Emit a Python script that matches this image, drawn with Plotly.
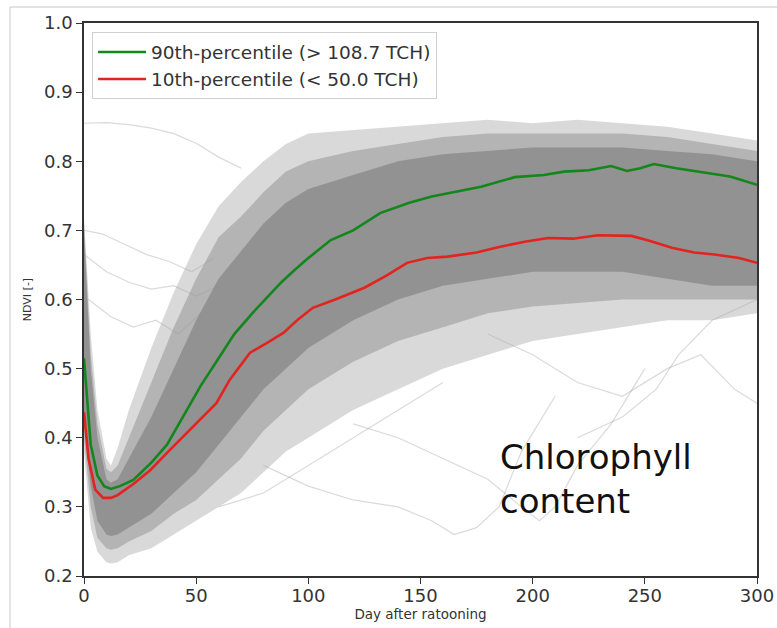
import plotly.graph_objects as go

# ---- data ----
band_x = [0, 3, 6, 10, 12, 15, 20, 30, 40, 50, 60, 70, 80, 90, 100, 120, 140, 160, 180, 200, 220, 240, 260, 280, 300]
outer_upper = [0.72, 0.55, 0.44, 0.37, 0.36, 0.385, 0.44, 0.53, 0.61, 0.68, 0.735, 0.77, 0.80, 0.825, 0.84, 0.845, 0.85, 0.855, 0.86, 0.855, 0.86, 0.855, 0.85, 0.84, 0.83]
outer_lower = [0.38, 0.27, 0.235, 0.22, 0.218, 0.22, 0.23, 0.24, 0.26, 0.28, 0.30, 0.32, 0.35, 0.38, 0.40, 0.44, 0.47, 0.50, 0.52, 0.54, 0.55, 0.56, 0.57, 0.57, 0.58]
mid_upper = [0.71, 0.52, 0.42, 0.355, 0.35, 0.36, 0.40, 0.48, 0.56, 0.63, 0.69, 0.72, 0.755, 0.785, 0.80, 0.815, 0.825, 0.835, 0.84, 0.84, 0.84, 0.84, 0.835, 0.825, 0.815]
mid_lower = [0.40, 0.30, 0.255, 0.24, 0.238, 0.24, 0.25, 0.265, 0.29, 0.31, 0.34, 0.37, 0.41, 0.44, 0.47, 0.51, 0.54, 0.56, 0.58, 0.59, 0.595, 0.60, 0.60, 0.60, 0.60]
core_upper = [0.70, 0.50, 0.40, 0.34, 0.335, 0.34, 0.37, 0.43, 0.50, 0.57, 0.63, 0.67, 0.71, 0.74, 0.76, 0.78, 0.80, 0.81, 0.815, 0.82, 0.82, 0.82, 0.815, 0.81, 0.80]
core_lower = [0.42, 0.33, 0.28, 0.26, 0.258, 0.26, 0.27, 0.29, 0.32, 0.35, 0.39, 0.43, 0.47, 0.50, 0.53, 0.57, 0.60, 0.62, 0.63, 0.64, 0.64, 0.64, 0.63, 0.62, 0.62]

green_x = [0, 3, 6, 9, 12, 16, 22, 30, 37, 46, 52, 60, 67, 75, 82, 88, 94, 100, 110, 120, 132, 145, 155, 165, 177, 192, 205, 214, 225, 235, 242, 248, 254, 264, 274, 288, 300]
green_y = [0.515, 0.39, 0.345, 0.33, 0.326, 0.33, 0.339, 0.364, 0.39, 0.44, 0.475, 0.515, 0.55, 0.58, 0.604, 0.625, 0.643, 0.66, 0.686, 0.70, 0.725, 0.74, 0.749, 0.755, 0.763, 0.777, 0.78, 0.785, 0.787, 0.793, 0.786, 0.79, 0.796, 0.79, 0.785, 0.778, 0.766]

red_x = [0, 2, 5, 8.5, 12, 15, 22, 29.5, 37, 44, 52, 59, 65, 74, 82, 89, 95, 102, 112, 125, 135, 144, 153, 162, 175, 185, 197, 207, 218, 229, 244, 252, 262, 272, 281, 292, 300]
red_y = [0.437, 0.37, 0.325, 0.313, 0.313, 0.317, 0.333, 0.353, 0.378, 0.401, 0.426, 0.450, 0.484, 0.523, 0.538, 0.552, 0.57, 0.588, 0.60, 0.617, 0.635, 0.653, 0.66, 0.662, 0.668, 0.676, 0.684, 0.689, 0.688, 0.693, 0.692, 0.685, 0.675, 0.668, 0.665, 0.66, 0.653]

outliers = [
    ([0, 10, 20, 30, 40, 50, 60, 70], [0.855, 0.856, 0.853, 0.848, 0.84, 0.826, 0.806, 0.79]),
    ([0, 8, 18, 28, 38, 48, 58], [0.70, 0.695, 0.68, 0.665, 0.655, 0.64, 0.66]),
    ([0, 10, 20, 30, 40, 50, 60], [0.665, 0.64, 0.625, 0.615, 0.62, 0.605, 0.62]),
    ([2, 12, 22, 32, 42, 52], [0.60, 0.575, 0.56, 0.57, 0.55, 0.58]),
    ([80, 100, 120, 140, 155, 165, 175, 185, 195, 210], [0.36, 0.33, 0.31, 0.30, 0.28, 0.26, 0.27, 0.30, 0.38, 0.46]),
    ([120, 140, 160, 180, 195, 203, 210, 220, 235, 250], [0.42, 0.40, 0.37, 0.34, 0.30, 0.28, 0.30, 0.36, 0.42, 0.50]),
    ([180, 200, 220, 240, 260, 275, 290, 300], [0.55, 0.52, 0.48, 0.46, 0.50, 0.52, 0.47, 0.45]),
    ([60, 80, 100, 120, 140, 160], [0.30, 0.32, 0.36, 0.40, 0.44, 0.48]),
    ([220, 240, 255, 265, 280, 300], [0.40, 0.43, 0.47, 0.52, 0.57, 0.60]),
]

x_ticks = [0, 50, 100, 150, 200, 250, 300]
y_ticks = [0.2, 0.3, 0.4, 0.5, 0.6, 0.7, 0.8, 0.9, 1.0]
note_text = "Chlorophyll<br>content"

fig = go.Figure()

for ox, oy in outliers:
    fig.add_trace(go.Scatter(x=ox, y=oy, mode="lines", line=dict(color="rgba(150,150,150,0.35)", width=1.2),
                             showlegend=False, hoverinfo="skip"))

for lo, hi, col in [(outer_lower, outer_upper, "rgba(170,170,170,0.45)"),
                    (mid_lower, mid_upper, "rgba(150,150,150,0.55)"),
                    (core_lower, core_upper, "rgba(135,135,135,0.75)")]:
    fig.add_trace(go.Scatter(x=band_x, y=lo, mode="lines", line=dict(width=0, color=col),
                             showlegend=False, hoverinfo="skip"))
    fig.add_trace(go.Scatter(x=band_x, y=hi, mode="lines", line=dict(width=0, color=col),
                             fill="tonexty", fillcolor=col, showlegend=False, hoverinfo="skip"))

fig.add_trace(go.Scatter(x=green_x, y=green_y, mode="lines", name="90th-percentile (> 108.7 TCH)",
                         line=dict(color="#13861c", width=2.6)))
fig.add_trace(go.Scatter(x=red_x, y=red_y, mode="lines", name="10th-percentile (< 50.0 TCH)",
                         line=dict(color="#e3231f", width=2.6)))

axis_common = dict(showgrid=False, zeroline=False, showline=True, linecolor="#333333", linewidth=1.5,
                   mirror=True, ticks="outside", ticklen=6, tickcolor="#333333", tickwidth=1.2,
                   automargin=False,
                   tickfont=dict(family="DejaVu Sans", size=18, color="#333333"))

fig.update_xaxes(range=[0, 300], tickvals=x_ticks, ticktext=[str(v) for v in x_ticks],
                 ticklabelstandoff=-3,
                 title=dict(text="Day after ratooning", font=dict(family="DejaVu Sans", size=13.5, color="#333333"),
                            standoff=2), **axis_common)
fig.update_yaxes(range=[0.2, 1.0], tickvals=y_ticks, ticktext=[f"{v:.1f}" for v in y_ticks],
                 title=dict(text="NDVI [-]", font=dict(family="DejaVu Sans", size=11, color="#333333"),
                            standoff=10), **axis_common)

fig.add_annotation(x=184.5, y=0.341, xref="x", yref="y", text=note_text, showarrow=False,
                   xanchor="left", yanchor="middle", align="left",
                   font=dict(family="DejaVu Sans", size=34, color="#111111"))

# thin screenshot frame
fig.add_shape(type="line", xref="paper", yref="paper", x0=-0.11, x1=1.05, y0=1.029, y1=1.029,
              line=dict(color="#d9d9d9", width=1.5))
fig.add_shape(type="line", xref="paper", yref="paper", x0=-0.11, x1=-0.11, y0=1.029, y1=-0.12,
              line=dict(color="#d9d9d9", width=1.5))

fig.update_layout(
    width=777, height=628,
    margin=dict(l=84, r=20, t=23, b=52),
    paper_bgcolor="white", plot_bgcolor="white",
    font=dict(family="DejaVu Sans", color="#333333"),
    legend=dict(x=0.012, y=0.983, xanchor="left", yanchor="top", traceorder="normal",
                bgcolor="rgba(255,255,255,0.9)", bordercolor="#d0d0d0", borderwidth=1,
                font=dict(family="DejaVu Sans", size=18.5, color="#333333"),
                tracegroupgap=0, itemwidth=48),
    showlegend=True,
)

fig.write_html("out.html")
